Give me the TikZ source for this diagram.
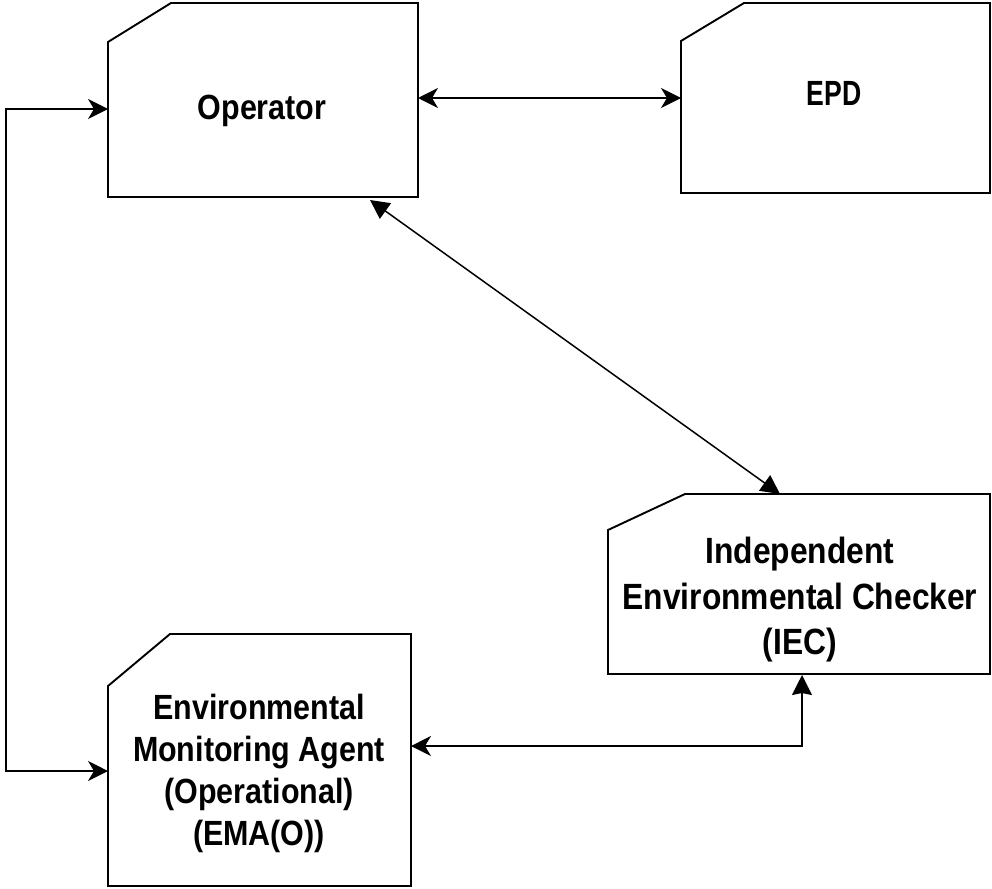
\documentclass[tikz,border=0pt]{standalone}
\usepackage{fontspec}
\setmainfont{Liberation Sans}[FakeStretch=0.87]
\newfontfamily\epdfont{Liberation Sans}[FakeStretch=0.76]
\usetikzlibrary{calc,arrows.meta}
\tikzset{
  boxnode/.style={rectangle, inner sep=0pt, outer sep=0pt},
  boxline/.style={draw=black, line width=1.9pt, line join=miter},
  txt/.style={inner sep=0pt, align=center, font=\bfseries\fontsize{35}{42}\selectfont},
  conn/.style={draw=black, line width=1.5pt},
  sth/.tip={Stealth[length=20pt,width=20pt,inset=6pt]},
  tri/.tip={Triangle[length=19pt,width=19pt]},
}
\newcommand\chamferbox[3]{%
  \draw[boxline] (#1.south west) -- ($(#1.north west)+(0,#3)$) -- ($(#1.north west)+(#2,0)$)
    -- (#1.north east) -- (#1.south east) -- cycle;}
\begin{document}
\begin{tikzpicture}[x=1pt,y=-1pt]
\useasboundingbox (0,0) rectangle (992,888);
% boxes
\node[boxnode, minimum width=310pt, minimum height=194pt] (op) at (263,100) {};
\node[boxnode, minimum width=309pt, minimum height=190pt] (epd) at (835.5,98) {};
\node[boxnode, minimum width=382pt, minimum height=180pt] (iec) at (799,584) {};
\node[boxnode, minimum width=303pt, minimum height=252pt] (ema) at (259.5,760) {};
\chamferbox{op}{63}{39}
\chamferbox{epd}{63}{38}
\chamferbox{iec}{77}{36}
\chamferbox{ema}{62}{52}
% texts
\node[txt, anchor=base] (optext) at (262,119) {Operator};
\node[txt, anchor=base, font=\bfseries\epdfont\fontsize{35}{42}\selectfont] (epdtext) at (834,106) {EPD};
\node[txt, anchor=north, font=\bfseries\fontsize{36.5}{45.5}\selectfont] (iectext) at (800,537) {Independent\\Environmental Checker\\(IEC)};
\node[txt, anchor=north] (ematext) at (259,693.5) {Environmental\\Monitoring Agent\\(Operational)\\(EMA(O))};
% connectors
\draw[conn, {sth}-{sth}] (op.east |- epd.west) -- (epd.west);
\draw[conn, {tri}-{tri}] ($(op.south)+(107,3)$) -- ($(iec.north)+(-19,0)$);
\coordinate (lefttop) at ($(op.west)+(-102,9)$);
\draw[conn, {sth}-{sth}] ($(op.west)+(0,9)$) -- (lefttop) |- ($(ema.west)+(0,11)$);
\draw[conn, {sth}-{Stealth[length=20pt,width=20pt,inset=2pt]}] ($(ema.east)+(0,-14)$) -| ($(iec.south)+(3,1)$);
\end{tikzpicture}
\end{document}
